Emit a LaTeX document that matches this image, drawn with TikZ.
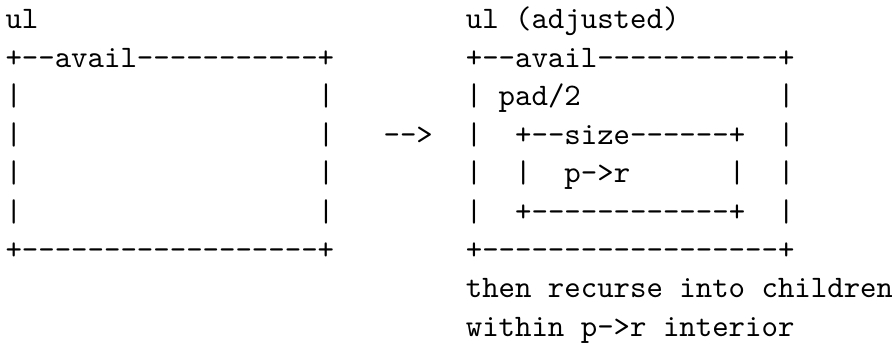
\documentclass[tikz,border=0pt]{standalone}
\usepackage{fontspec}
\newfontfamily\asciifont{lmmono10-regular}[Extension=.otf,WordSpace={1,0,0}]
\tikzset{
  ascii/.style={anchor=base west, inner sep=0pt, outer sep=0pt,
    font=\fontsize{31.3}{38.4}\selectfont\asciifont}
}
% place text #4 as node #1 at column #2, row #3 of a fixed character grid
\newcommand\asc[4]{\node[ascii] (#1) at ({5.5pt+#2*16.44pt},{-29pt-(#3-1)*38.4pt}) {#4};}
\begin{document}
\begin{tikzpicture}
\useasboundingbox (0,0) rectangle (892pt,-345pt);
% left panel: the available area
\asc{lt}{0}{1}{ul}
\asc{ltop}{0}{2}{+--avail-----------+}
\asc{la3}{0}{3}{|}  \asc{lb3}{19}{3}{|}
\asc{la4}{0}{4}{|}  \asc{lb4}{19}{4}{|}
\asc{la5}{0}{5}{|}  \asc{lb5}{19}{5}{|}
\asc{la6}{0}{6}{|}  \asc{lb6}{19}{6}{|}
\asc{lbot}{0}{7}{+------------------+}
% arrow between the panels
\asc{arrow}{23}{4}{-->}
% right panel: adjusted area with padded inner box
\asc{rt}{28}{1}{ul (adjusted)}
\asc{rtop}{28}{2}{+--avail-----------+}
\asc{ra3}{28}{3}{|} \asc{pad}{30}{3}{pad/2} \asc{rb3}{47}{3}{|}
\asc{ra4}{28}{4}{|} \asc{itop}{31}{4}{+--size------+} \asc{rb4}{47}{4}{|}
\asc{ra5}{28}{5}{|} \asc{ia5}{31}{5}{|} \asc{pr}{34}{5}{p->r} \asc{ib5}{44}{5}{|} \asc{rb5}{47}{5}{|}
\asc{ra6}{28}{6}{|} \asc{ibot}{31}{6}{+------------+} \asc{rb6}{47}{6}{|}
\asc{rbot}{28}{7}{+------------------+}
\asc{note1}{28}{8}{then recurse into children}
\asc{note2}{28}{9}{within p->r interior}
\end{tikzpicture}
\end{document}
